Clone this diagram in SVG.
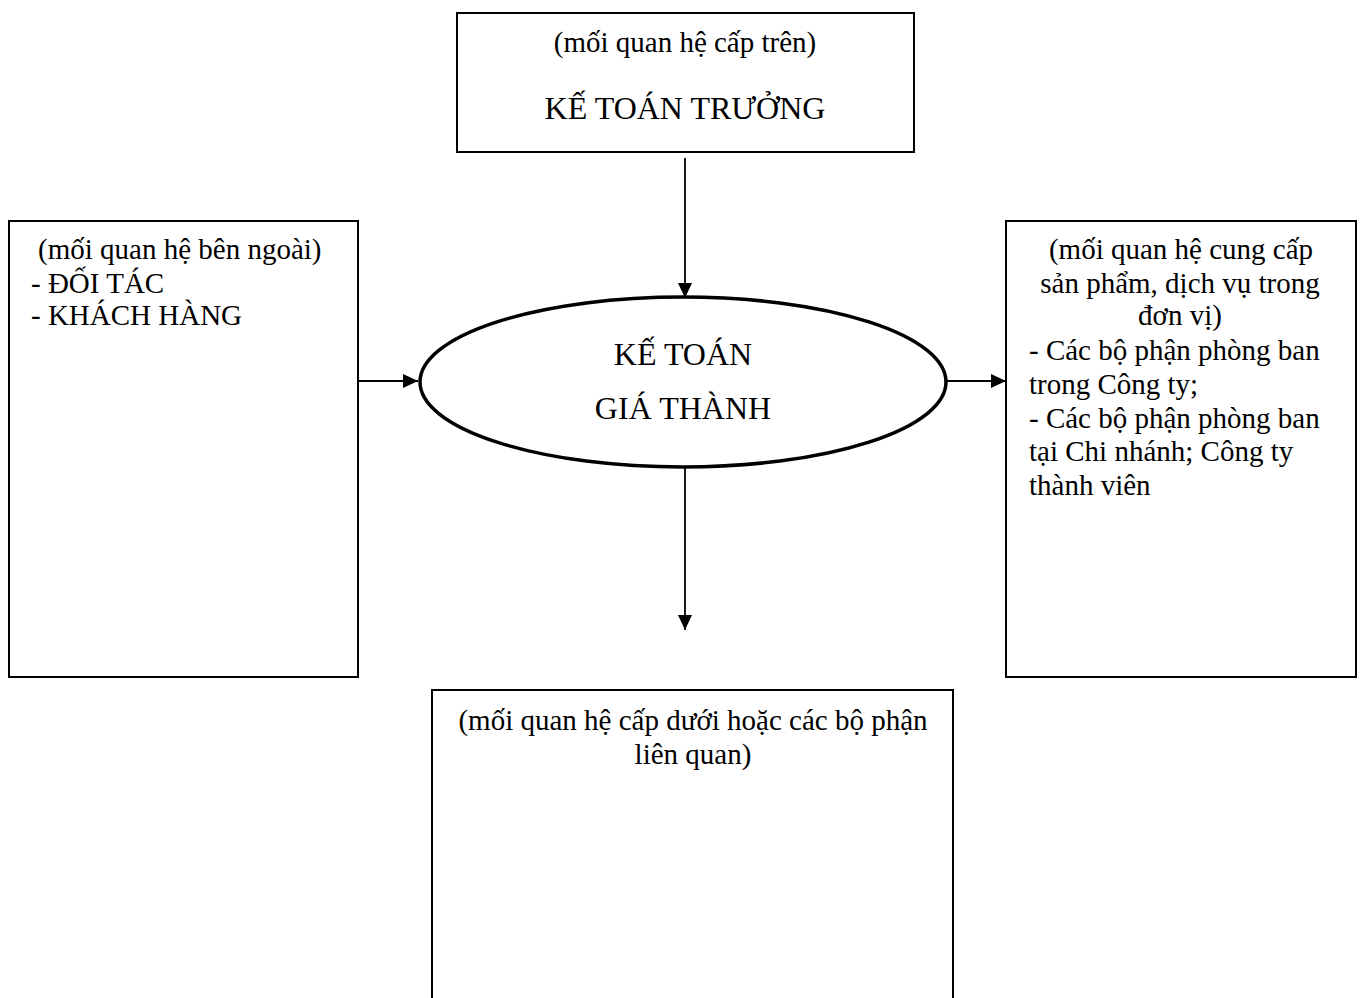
<svg xmlns="http://www.w3.org/2000/svg" width="1360" height="998" viewBox="0 0 1360 998">
  <style>
    .box { fill: #fff; stroke: #000; stroke-width: 2; }
    .oval { fill: #fff; stroke: #000; stroke-width: 3.5; }
    .link { fill: none; stroke: #000; stroke-width: 1.8; marker-end: url(#head); }
    text { font-family: "Liberation Serif", "Times New Roman", serif; fill: #000; }
    .sm { font-size: 29px; }
    .lg { font-size: 32px; }
    .c { text-anchor: middle; }
  </style>
  <defs>
    <marker id="head" markerUnits="userSpaceOnUse" markerWidth="16" markerHeight="14" refX="15" refY="7" orient="auto">
      <path d="M0,0 L15,7 L0,14 Z" fill="#000"/>
    </marker>
  </defs>
  <rect width="1360" height="998" fill="#fff"/>

  <!-- connectors -->
  <g id="connectors">
    <line class="link" x1="685" y1="158" x2="685" y2="298"/>
    <line class="link" x1="358" y1="381" x2="418" y2="381"/>
    <line class="link" x1="947" y1="381" x2="1006" y2="381"/>
    <line class="link" x1="685" y1="468" x2="685" y2="630"/>
  </g>

  <!-- superior -->
  <g id="ke-toan-truong">
    <rect class="box" x="457" y="13" width="457" height="139"/>
    <text class="sm c" x="685" y="52">(mối quan hệ cấp trên)</text>
    <text class="lg c" x="685" y="119">KẾ TOÁN TRƯỞNG</text>
  </g>

  <!-- external -->
  <g id="ben-ngoai">
    <rect class="box" x="9" y="221" width="349" height="456"/>
    <text class="sm" x="38" y="259">(mối quan hệ bên ngoài)</text>
    <text class="sm" x="31" y="293">- ĐỐI TÁC</text>
    <text class="sm" x="31" y="325">- KHÁCH HÀNG</text>
  </g>

  <!-- centre -->
  <g id="ke-toan-gia-thanh">
    <ellipse class="oval" cx="683" cy="382" rx="263" ry="85"/>
    <text class="lg c" x="683" y="365">KẾ TOÁN</text>
    <text class="lg c" x="683" y="419">GIÁ THÀNH</text>
  </g>

  <!-- internal service -->
  <g id="cung-cap">
    <rect class="box" x="1006" y="221" width="350" height="456"/>
    <text class="sm c" x="1181" y="259">(mối quan hệ cung cấp</text>
    <text class="sm c" x="1180" y="293">sản phẩm, dịch vụ trong</text>
    <text class="sm c" x="1180" y="325">đơn vị)</text>
    <text class="sm" x="1029" y="360">- Các bộ phận phòng ban</text>
    <text class="sm" x="1029" y="394">trong Công ty;</text>
    <text class="sm" x="1029" y="428">- Các bộ phận phòng ban</text>
    <text class="sm" x="1029" y="461">tại Chi nhánh; Công ty</text>
    <text class="sm" x="1029" y="495">thành viên</text>
  </g>

  <!-- subordinate -->
  <g id="cap-duoi">
    <rect class="box" x="432" y="690" width="521" height="330"/>
    <text class="sm c" x="693" y="730">(mối quan hệ cấp dưới hoặc các bộ phận</text>
    <text class="sm c" x="693" y="764">liên quan)</text>
  </g>
</svg>
